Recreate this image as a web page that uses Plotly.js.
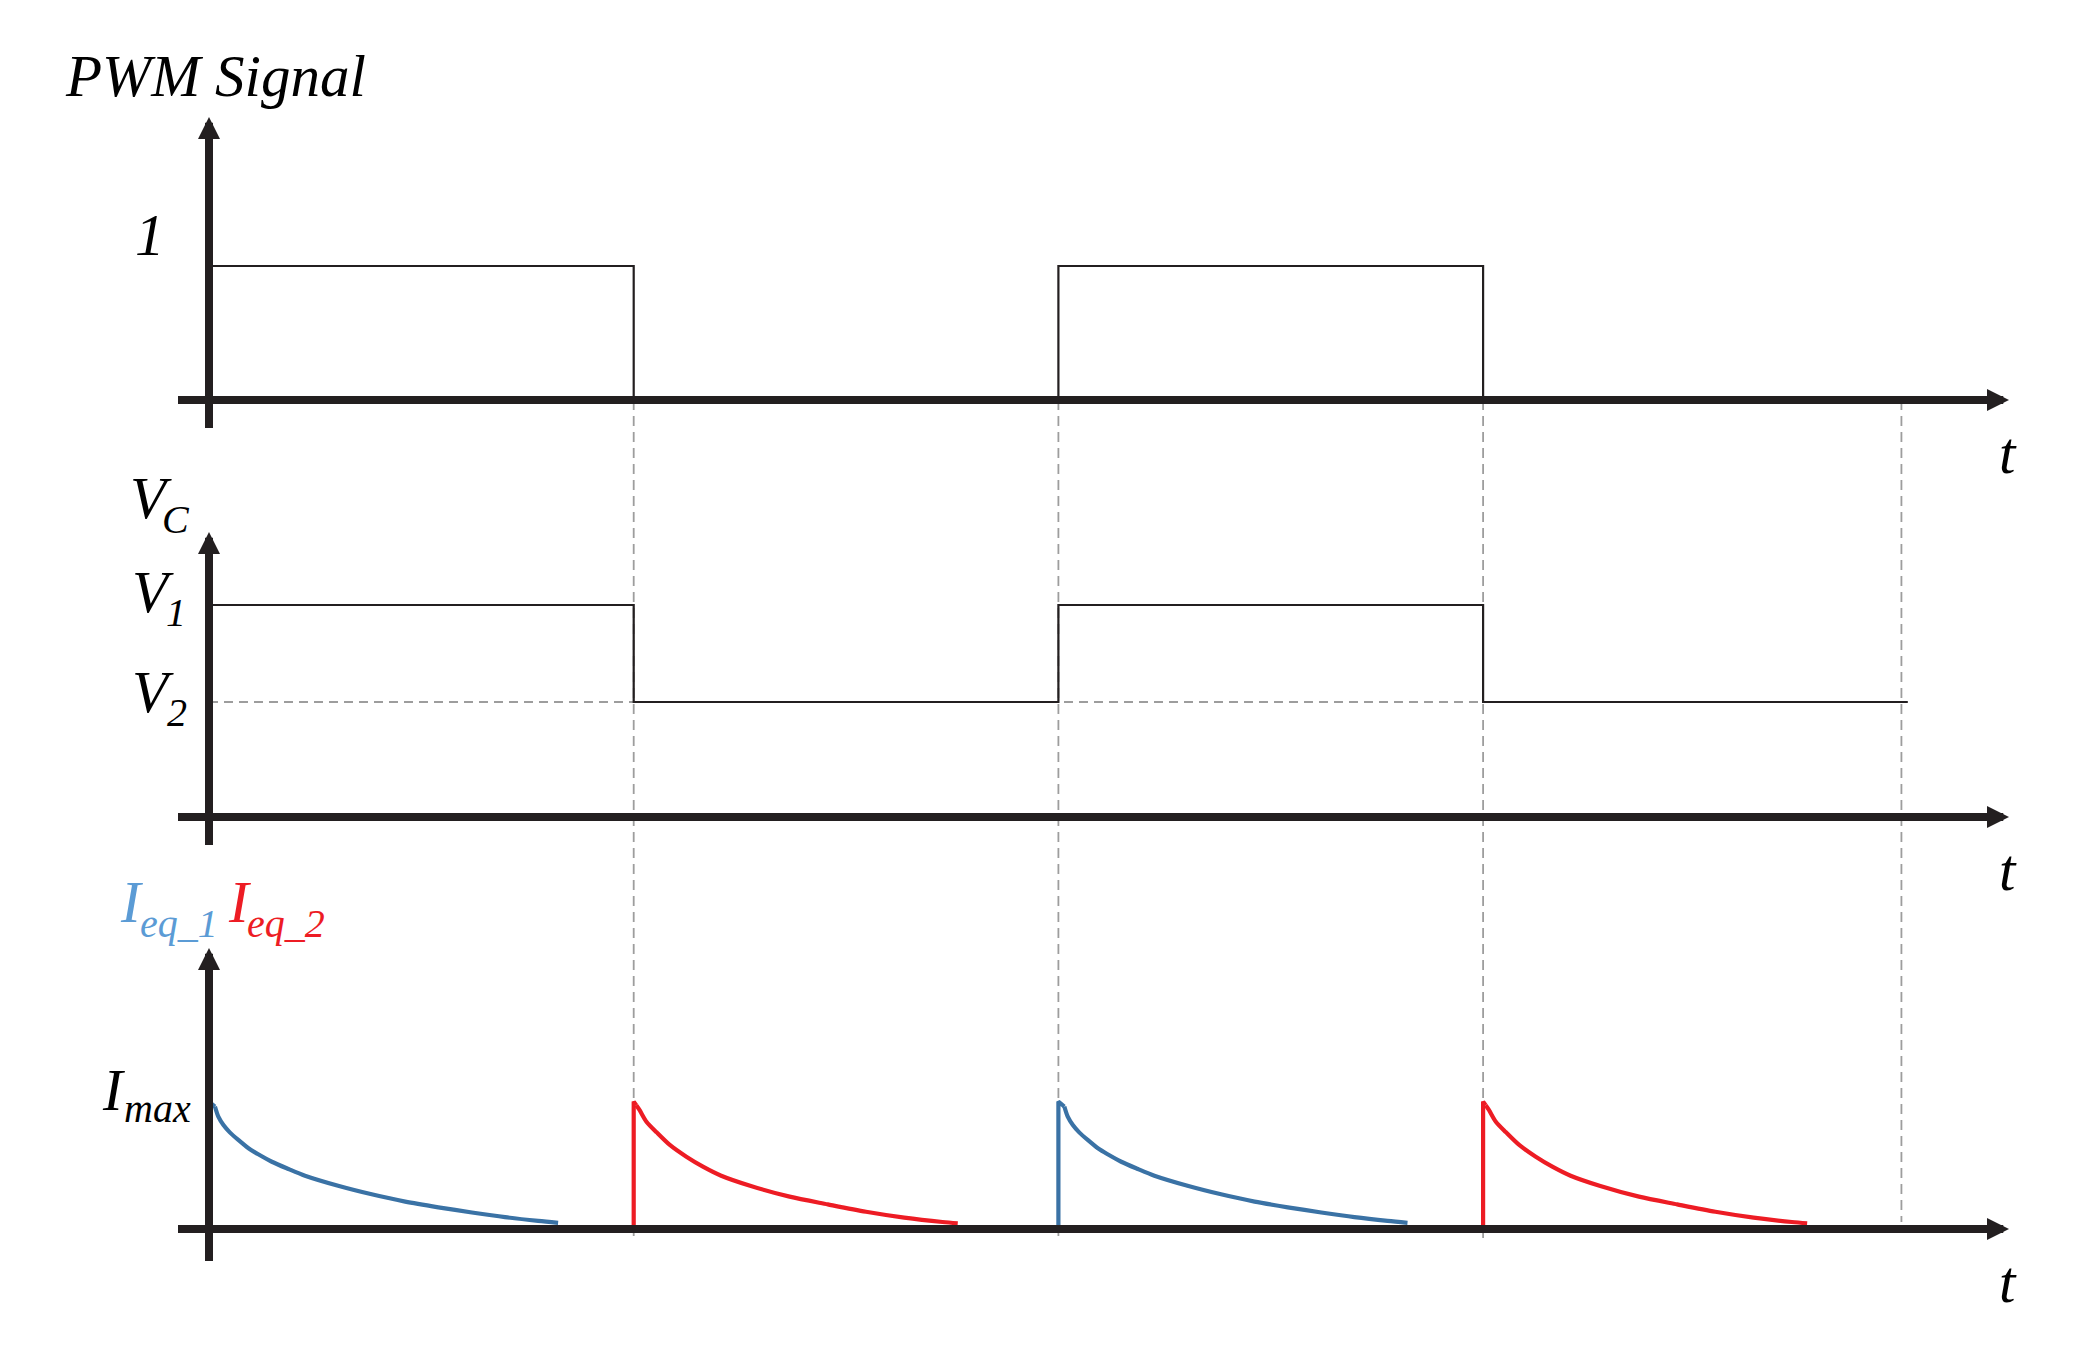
<!DOCTYPE html>
<html>
<head>
<meta charset="utf-8">
<script src="https://cdn.plot.ly/plotly-3.0.1.min.js"></script>
<style>
html, body { margin: 0; padding: 0; background: #ffffff; }
#chart { width: 2085px; height: 1350px; }
</style>
</head>
<body>
<div id="chart"></div>
<script>
// ---------------- data ----------------
// PWM signal (0 / 1), step after each switching instant
const pwmTime = [0, 1, 2, 3, 3.985];
const pwmLevel = [1, 0, 1, 0, 0];

// Capacitor voltage, V1 normalised to 1
const V1 = 1.0;
const V2 = 0.5425;
const vcTime = [0, 1, 2, 3, 4.0];
const vcLevel = [V1, V2, V1, V2, V2];
const v2GuideTime = [0, 3];

// dashed switching-instant guides
const guideTime = [1, 2, 3, 3.985];

// equivalent currents (Imax normalised to 1); first two points = switching spike
const ieq1Start = [0, 2];
const ieq1Offset = [0, 0, 0.014, 0.022, 0.034, 0.049, 0.069, 0.093, 0.116, 0.148, 0.187, 0.226, 0.304, 0.383, 0.462, 0.540, 0.619, 0.697, 0.775, 0.822];
const ieq1Value  = [0, 1.04, 1.0, 0.917, 0.849, 0.789, 0.727, 0.659, 0.610, 0.549, 0.490, 0.435, 0.353, 0.283, 0.223, 0.177, 0.135, 0.097, 0.066, 0.050];

const ieq2Start = [1, 3];
const ieq2Offset = [0, 0, 0.006, 0.014, 0.030, 0.054, 0.085, 0.124, 0.163, 0.206, 0.276, 0.367, 0.457, 0.547, 0.637, 0.727, 0.763];
const ieq2Value  = [0, 1.04, 1.01, 0.97, 0.876, 0.789, 0.686, 0.590, 0.509, 0.435, 0.351, 0.264, 0.201, 0.141, 0.093, 0.057, 0.046];

// ---------------- layout geometry (pixels) ----------------
const W = 2085, H = 1350;
const X_ORIGIN_PX = 209, X_UNIT_PX = 424.7;
const panels = [
  { key: 'yaxis',  ref: 'y',  top: 95,  bottom: 440,  zero: 400,  unit: 134,   tipPx: 117, tailPx: 428 },
  { key: 'yaxis2', ref: 'y2', top: 470, bottom: 880,  zero: 817,  unit: 212,   tipPx: 532, tailPx: 845 },
  { key: 'yaxis3', ref: 'y3', top: 900, bottom: 1320, zero: 1229, unit: 122.5, tipPx: 948, tailPx: 1261 }
];
const X_TAIL_PX = 178, X_TIP_PX = 2009;
const guideBottomPx = [1236, 1236, 1238, 1222];

const INK = '#231f20';
const GUIDE = '#9d9d9d';
const BLUE = '#3a72a5';
const BLUE_LABEL = '#5b9bd5';
const RED = '#ed1c24';
const FONT = 'Liberation Serif, Times New Roman, serif';
const CURVE_W = 4.2;

const xv = px => (px - X_ORIGIN_PX) / X_UNIT_PX;
const yv = (p, px) => (p.zero - px) / p.unit;
const paperY = py => 1 - py / H;

// ---------------- traces ----------------
const traces = [];
traces.push({
  x: v2GuideTime, y: [V2, V2], yaxis: 'y2', mode: 'lines',
  line: { color: GUIDE, width: 1.8, dash: '9px,6px' }, hoverinfo: 'skip', showlegend: false
});
traces.push({
  x: pwmTime, y: pwmLevel, yaxis: 'y', mode: 'lines',
  line: { color: INK, width: 2.2, shape: 'hv' }, hoverinfo: 'skip', showlegend: false
});
traces.push({
  x: vcTime, y: vcLevel, yaxis: 'y2', mode: 'lines',
  line: { color: INK, width: 2.2, shape: 'hv' }, hoverinfo: 'skip', showlegend: false
});

function addPulse(start, offset, value, color) {
  // switching spike (straight)
  traces.push({
    x: offset.slice(0, 3).map(o => start + o), y: value.slice(0, 3), yaxis: 'y3', mode: 'lines',
    line: { color: color, width: CURVE_W }, hoverinfo: 'skip', showlegend: false
  });
  // decay (smooth)
  traces.push({
    x: offset.slice(2).map(o => start + o), y: value.slice(2), yaxis: 'y3', mode: 'lines',
    line: { color: color, width: CURVE_W, shape: 'spline', smoothing: 0.8 },
    hoverinfo: 'skip', showlegend: false
  });
}
ieq1Start.forEach(s => addPulse(s, ieq1Offset, ieq1Value, BLUE));
ieq2Start.forEach(s => addPulse(s, ieq2Offset, ieq2Value, RED));

// ---------------- shapes (dashed guides) ----------------
const shapes = guideTime.map((t, i) => ({
  type: 'line', xref: 'x', yref: 'paper', layer: 'below',
  x0: t, x1: t, y0: paperY(panels[0].zero), y1: paperY(guideBottomPx[i]),
  line: { color: GUIDE, width: 1.8, dash: '10px,6px' }
}));

// ---------------- annotations: axis arrows ----------------
const annotations = [];
panels.forEach(p => {
  annotations.push({
    xref: 'x', yref: p.ref, axref: 'x', ayref: p.ref,
    x: xv(X_TIP_PX), y: 0, ax: xv(X_TAIL_PX), ay: 0,
    text: '', showarrow: true, arrowhead: 2, arrowsize: 0.55, arrowwidth: 8,
    arrowcolor: INK, standoff: 0, borderpad: 0, borderwidth: 0
  });
  annotations.push({
    xref: 'x', yref: p.ref, axref: 'x', ayref: p.ref,
    x: 0, y: yv(p, p.tipPx), ax: 0, ay: yv(p, p.tailPx),
    text: '', showarrow: true, arrowhead: 2, arrowsize: 0.55, arrowwidth: 8,
    arrowcolor: INK, standoff: 0, borderpad: 0, borderwidth: 0
  });
});

// ---------------- annotations: labels ----------------
function label(text, leftPx, baselinePx, size, color) {
  annotations.push({
    xref: 'paper', yref: 'paper',
    x: leftPx / W, y: paperY(baselinePx - 0.3375 * size),
    xanchor: 'left', yanchor: 'middle',
    text: text, showarrow: false, borderpad: 0, borderwidth: 0,
    font: { family: FONT, size: size, color: color, style: 'italic' }
  });
}
const BIG = 59, SMALL = 40;
label('PWM Signal', 65, 96, BIG, '#000');
label('1', 135, 255, BIG, '#000');
label('t', 1999, 473, BIG, '#000');
label('t', 1999, 890, BIG, '#000');
label('t', 1999, 1302, BIG, '#000');
label('V', 130, 518, BIG, '#000');  label('C', 162, 533, SMALL, '#000');
label('V', 132, 612, BIG, '#000');  label('1', 166, 626, SMALL, '#000');
label('V', 132, 712, BIG, '#000');  label('2', 167, 726, SMALL, '#000');
label('I', 120, 922, BIG, BLUE_LABEL); label('eq_1', 140, 937, SMALL, BLUE_LABEL);
label('I', 228, 922, BIG, RED);        label('eq_2', 247, 937, SMALL, RED);
label('I', 102, 1110, BIG, '#000');    label('max', 124, 1122, SMALL, '#000');

// ---------------- layout ----------------
const layout = {
  width: W, height: H,
  margin: { l: 0, r: 0, t: 0, b: 0, pad: 0 },
  paper_bgcolor: '#ffffff', plot_bgcolor: '#ffffff',
  showlegend: false,
  xaxis: { domain: [0, 1], range: [xv(0), xv(W)], visible: false, fixedrange: true },
  shapes: shapes,
  annotations: annotations
};
panels.forEach(p => {
  layout[p.key] = {
    domain: [paperY(p.bottom), paperY(p.top)],
    range: [yv(p, p.bottom), yv(p, p.top)],
    anchor: 'x', visible: false, fixedrange: true
  };
});

Plotly.newPlot('chart', traces, layout, { staticPlot: true, displayModeBar: false });
</script>
</body>
</html>
